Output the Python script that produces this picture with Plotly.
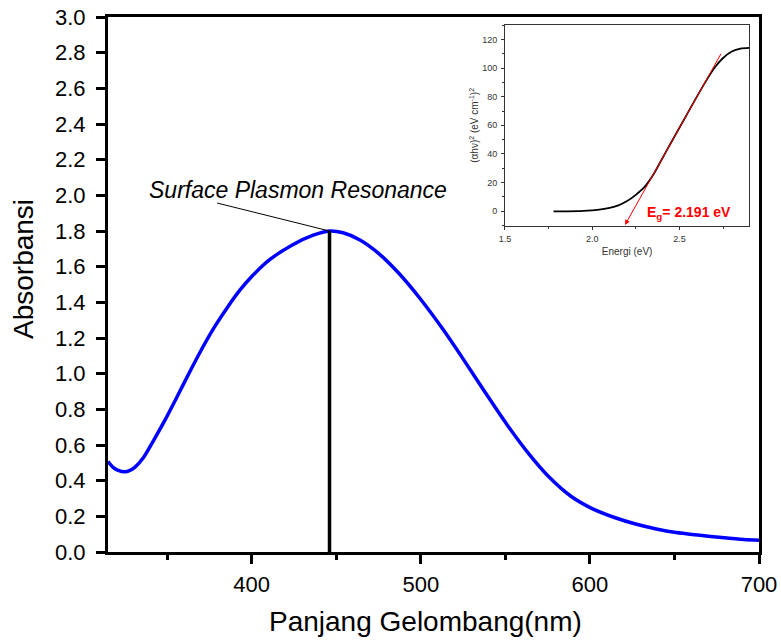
import plotly.graph_objects as go

# ---------------- data ----------------
wavelength_nm = [315, 318, 321, 325, 328, 331, 336, 342, 349, 356, 363, 370, 378, 386, 393,
                 400, 411, 424, 436, 446, 454, 464, 475, 487, 500, 513, 525, 538, 551, 564,
                 576, 589, 601, 615, 627, 640, 651, 665, 678, 691, 700]
absorbance = [0.507, 0.475, 0.458, 0.45, 0.458, 0.476, 0.53, 0.626, 0.745, 0.873, 1.004,
              1.13, 1.262, 1.377, 1.468, 1.545, 1.642, 1.722, 1.775, 1.80, 1.79, 1.75,
              1.675, 1.563, 1.416, 1.25, 1.083, 0.896, 0.714, 0.549, 0.419, 0.311, 0.245,
              0.192, 0.157, 0.128, 0.109, 0.094, 0.081, 0.07, 0.066]

spr_x = [446, 446]          # SPR peak marker (nm)
spr_y = [0.0, 1.80]
leader_x = [379.5, 446]     # leader line from label to peak
leader_y = [1.957, 1.80]
spr_label = "Surface Plasmon Resonance"
spr_label_pos = (427.4, 2.03)

energy_ev = [1.778, 1.85, 1.95, 2.0, 2.05, 2.1, 2.15, 2.2, 2.25, 2.3, 2.35, 2.4, 2.45,
             2.5, 2.55, 2.6, 2.65, 2.7, 2.75, 2.8, 2.85, 2.9]
tauc = [0, 0, 0.3, 0.7, 1.3, 2.4, 4.2, 7.2, 11.5, 17, 25.5, 36.5, 47.5, 58.3, 69.2,
        80, 90.5, 100, 107, 111.5, 113.5, 114]
tangent_x = [2.188, 2.743]  # fitted tangent (arrow head at first point)
tangent_y = [-9.5, 111]
eg_label = "<b>E<sub>g</sub>= 2.191 eV</b>"
eg_label_pos = (2.557, -1.5)

x_ticks = [400, 500, 600, 700]
y_ticks = [round(0.2 * i, 1) for i in range(16)]
inset_x_ticks = [1.5, 2.0, 2.5]
inset_y_ticks = [0, 20, 40, 60, 80, 100, 120]

x_title = "Panjang Gelombang(nm)"
y_title = "Absorbansi"

FONT = "Liberation Sans, Arial, Helvetica, sans-serif"

fig = go.Figure()

fig.add_trace(go.Scatter(x=wavelength_nm, y=absorbance, mode="lines",
                         line=dict(color="#0000ff", width=3.5, shape="spline", smoothing=0.8),
                         xaxis="x", yaxis="y", showlegend=False, hoverinfo="skip"))
fig.add_trace(go.Scatter(x=spr_x, y=spr_y, mode="lines",
                         line=dict(color="black", width=3.5),
                         xaxis="x", yaxis="y", showlegend=False, hoverinfo="skip"))
fig.add_trace(go.Scatter(x=leader_x, y=leader_y, mode="lines",
                         line=dict(color="black", width=1),
                         xaxis="x", yaxis="y", showlegend=False, hoverinfo="skip"))

fig.add_trace(go.Scatter(x=energy_ev, y=tauc, mode="lines",
                         line=dict(color="black", width=1.8, shape="spline", smoothing=0.6),
                         xaxis="x2", yaxis="y2", showlegend=False, hoverinfo="skip"))

fig.add_annotation(x=spr_label_pos[0], y=spr_label_pos[1], xref="x", yref="y",
                   text="<i>" + spr_label + "</i>", showarrow=False,
                   font=dict(family=FONT, size=23, color="black"))

# axis titles (placed as paper annotations to match reference placement)
fig.add_annotation(x=0.487, y=-0.129, xref="paper", yref="paper", text=x_title,
                   showarrow=False, xanchor="center", yanchor="middle",
                   font=dict(family=FONT, size=28, color="black"))
fig.add_annotation(x=-0.129, y=0.529, xref="paper", yref="paper", text=y_title,
                   showarrow=False, textangle=-90, xanchor="center", yanchor="middle",
                   font=dict(family=FONT, size=28, color="black"))

fig.add_annotation(x=tangent_x[0], y=tangent_y[0], ax=tangent_x[1], ay=tangent_y[1],
                   xref="x2", yref="y2", axref="x2", ayref="y2", text="",
                   showarrow=True, arrowhead=2, arrowsize=1, arrowwidth=1,
                   arrowcolor="red", standoff=0)
fig.add_annotation(x=eg_label_pos[0], y=eg_label_pos[1], xref="x2", yref="y2",
                   text=eg_label, showarrow=False,
                   font=dict(family=FONT, size=14, color="red"))

INSET_X_DOM = [0.6098, 0.985]
INSET_Y_DOM = [0.610, 0.985]

fig.update_layout(
    width=781, height=643,
    margin=dict(l=108, r=22, t=17, b=91, autoexpand=False),
    paper_bgcolor="white", plot_bgcolor="white",
    font=dict(family=FONT, color="black"),
    xaxis=dict(range=[315, 700], tickvals=x_ticks, ticks="outside", ticklen=9,
               tickwidth=3, tickcolor="black", showline=True, linewidth=3,
               linecolor="black", mirror=True, showgrid=False, zeroline=False,
               tickfont=dict(size=22), ticklabelstandoff=2,
               minor=dict(dtick=50, tick0=0, ticks="outside", ticklen=5, tickwidth=3,
                          tickcolor="black", showgrid=False)),
    yaxis=dict(range=[0, 3.0], tickvals=y_ticks, tickformat=".1f", ticks="outside",
               ticklen=9, tickwidth=3, tickcolor="black", showline=True, linewidth=3,
               linecolor="black", mirror=True, showgrid=False, zeroline=False,
               tickfont=dict(size=22), ticklabelstandoff=6),
    xaxis2=dict(domain=INSET_X_DOM, anchor="y2", range=[1.5, 2.9],
                tickvals=inset_x_ticks, tickformat=".1f", ticks="outside", ticklen=3,
                tickwidth=1, tickcolor="#333", showline=True, linewidth=1,
                linecolor="#333", mirror=True, showgrid=False, zeroline=False,
                tickfont=dict(size=9, color="#333"), ticklabelstandoff=2,
                minor=dict(dtick=0.25, tick0=0, ticks="outside", ticklen=2, tickwidth=1,
                           tickcolor="#333", showgrid=False),
                title=dict(text="Energi (eV)", font=dict(size=10, color="#333"), standoff=4)),
    yaxis2=dict(domain=INSET_Y_DOM, anchor="x2", range=[-10, 130],
                tickvals=inset_y_ticks, ticks="outside", ticklen=3, tickwidth=1,
                tickcolor="#333", showline=True, linewidth=1, linecolor="#333",
                mirror=True, showgrid=False, zeroline=False,
                tickfont=dict(size=9, color="#333"), ticklabelstandoff=2,
                minor=dict(dtick=10, tick0=0, ticks="outside", ticklen=2, tickwidth=1,
                           tickcolor="#333", showgrid=False),
                title=dict(text="(\u03b1h\u03bd)<sup>2</sup> (eV cm<sup>-1</sup>)<sup>2</sup>",
                           font=dict(size=10, color="#333"), standoff=1)),
    xaxis3=dict(domain=INSET_X_DOM, anchor="y2", overlaying="x2", side="top",
                range=[1.5, 2.9], tickvals=inset_x_ticks, ticks="inside", ticklen=3,
                tickwidth=1, tickcolor="#333", showticklabels=False, showgrid=False,
                zeroline=False, showline=False,
                minor=dict(dtick=0.25, tick0=0, ticks="inside", ticklen=2, tickwidth=1,
                           tickcolor="#333", showgrid=False)),
    yaxis3=dict(domain=INSET_Y_DOM, anchor="x2", overlaying="y2", side="right",
                range=[-10, 130], tickvals=inset_y_ticks, ticks="inside", ticklen=3,
                tickwidth=1, tickcolor="#333", showticklabels=False, showgrid=False,
                zeroline=False, showline=False,
                minor=dict(dtick=10, tick0=0, ticks="inside", ticklen=2, tickwidth=1,
                           tickcolor="#333", showgrid=False)),
)

fig.write_html("out.html", config={"displayModeBar": False},
               post_script="document.body.style.margin='0';")
